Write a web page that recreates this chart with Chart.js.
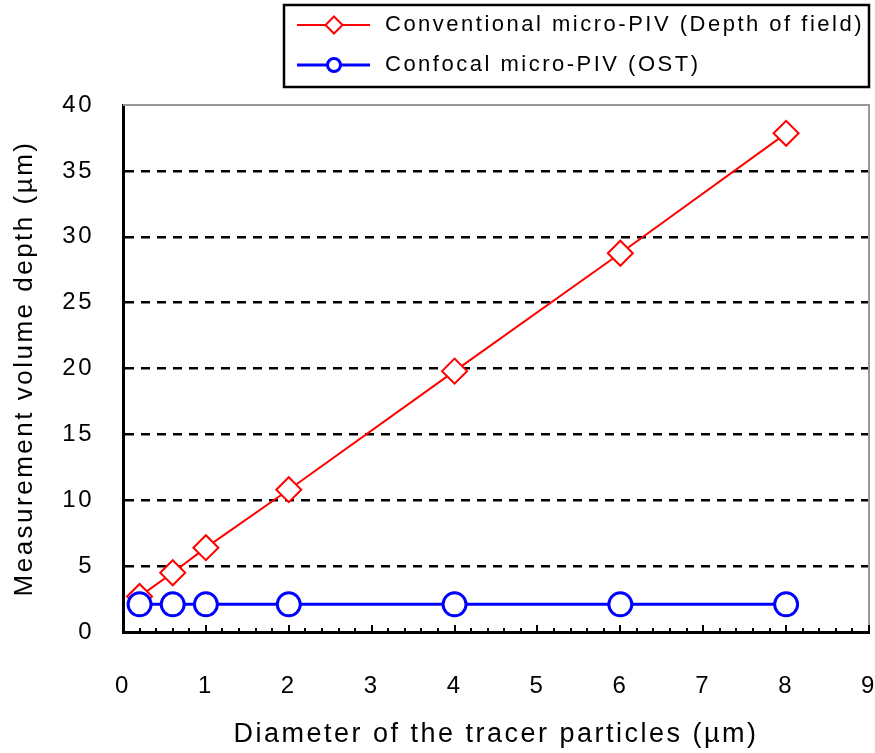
<!DOCTYPE html>
<html>
<head>
<meta charset="utf-8">
<script src="https://cdn.jsdelivr.net/npm/chart.js@4/dist/chart.umd.min.js"></script>
<style>
  html, body { margin: 0; padding: 0; background: #fff; }
  #wrap { width: 875px; height: 753px; position: relative; }
</style>
</head>
<body>
<div id="wrap"><canvas id="c" width="875" height="753"></canvas></div>
<script>
// ---- data ----
const diameters = [0.2, 0.6, 1, 2, 4, 6, 8];
const conventionalDepth = [2.7, 4.5, 6.4, 10.8, 19.8, 28.75, 37.85];
const confocalDepth = [2.1, 2.1, 2.1, 2.1, 2.1, 2.1, 2.1];
const seriesLabels = ['Conventional micro-PIV (Depth of field)', 'Confocal micro-PIV (OST)'];
const xTickValues = [0, 1, 2, 3, 4, 5, 6, 7, 8, 9];
const yTickValues = [0, 5, 10, 15, 20, 25, 30, 35, 40];
const xTitle = 'Diameter of the tracer particles (\u00b5m)';
const yTitle = 'Measurement volume depth (\u00b5m)';

const FONT = "'Liberation Sans', Arial, sans-serif";
const SPACING = '2.5px';

const toPts = (xs, ys) => xs.map((x, i) => ({ x: x, y: ys[i] }));

const spacingPlugin = {
  id: 'spacing',
  beforeInit(chart) { chart.ctx.letterSpacing = SPACING; },
  beforeUpdate(chart) { chart.ctx.letterSpacing = SPACING; },
  beforeDraw(chart) { chart.ctx.letterSpacing = SPACING; }
};

// frame (top/right gray) + inner x ticks
const framePlugin = {
  id: 'frame',
  beforeDatasetsDraw(chart) {
    const { ctx, chartArea: a, scales } = chart;
    ctx.save();
    ctx.strokeStyle = '#999999';
    ctx.lineWidth = 2;
    ctx.beginPath();
    ctx.moveTo(a.left, a.top);
    ctx.lineTo(a.right, a.top);
    ctx.lineTo(a.right, a.bottom);
    ctx.stroke();
    ctx.strokeStyle = '#000';
    ctx.lineWidth = 2;
    const xs = scales.x;
    for (let i = 0; i <= 45; i++) {
      const v = i * 0.2;
      const px = Math.round(xs.getPixelForValue(v));
      const len = (i % 5 === 0) ? 7 : 4;
      ctx.beginPath();
      ctx.moveTo(px, a.bottom);
      ctx.lineTo(px, a.bottom - len);
      ctx.stroke();
    }
    ctx.restore();
  }
};

// legend box with line + marker samples
const legendPlugin = {
  id: 'boxLegend',
  afterDraw(chart) {
    const { ctx } = chart;
    const box = { l: 284, t: 5, r: 869, b: 87 };
    ctx.save();
    ctx.fillStyle = '#fff';
    ctx.fillRect(box.l, box.t, box.r - box.l, box.b - box.t);
    ctx.strokeStyle = '#000';
    ctx.lineWidth = 2.5;
    ctx.strokeRect(box.l, box.t, box.r - box.l, box.b - box.t);
    const rows = [25, 65];
    const markR = [8.5, 6.5];
    chart.data.datasets.forEach((ds, i) => {
      const y = rows[i];
      ctx.strokeStyle = ds.borderColor;
      ctx.lineWidth = ds.borderWidth;
      ctx.beginPath();
      ctx.moveTo(297, y);
      ctx.lineTo(370, y);
      ctx.stroke();
      ctx.fillStyle = '#fff';
      ctx.strokeStyle = ds.pointBorderColor;
      ctx.lineWidth = ds.pointBorderWidth;
      ctx.beginPath();
      const r = markR[i];
      if (ds.pointStyle === 'circle') {
        ctx.arc(334, y, r, 0, Math.PI * 2);
      } else {
        ctx.moveTo(334, y - r); ctx.lineTo(334 + r, y); ctx.lineTo(334, y + r); ctx.lineTo(334 - r, y); ctx.closePath();
      }
      ctx.fill();
      ctx.stroke();
      ctx.fillStyle = '#000';
      ctx.font = '22px ' + FONT;
      ctx.letterSpacing = SPACING;
      ctx.textBaseline = 'middle';
      ctx.textAlign = 'left';
      ctx.fillText(ds.label, 385, y);
    });
    ctx.restore();
  }
};

new Chart(document.getElementById('c'), {
  type: 'line',
  data: {
    datasets: [
      {
        label: seriesLabels[0],
        data: toPts(diameters, conventionalDepth),
        order: 1,
        borderColor: '#ff0000',
        borderWidth: 2,
        pointStyle: 'rectRot',
        pointRadius: 12.5,
        pointBorderWidth: 2,
        pointBorderColor: '#ff0000',
        pointBackgroundColor: '#ffffff',
        tension: 0
      },
      {
        label: seriesLabels[1],
        data: toPts(diameters, confocalDepth),
        order: 0,
        borderColor: '#0000ff',
        borderWidth: 3,
        pointStyle: 'circle',
        pointRadius: 11.5,
        pointBorderWidth: 3,
        pointBorderColor: '#0000ff',
        pointBackgroundColor: '#ffffff',
        tension: 0
      }
    ]
  },
  options: {
    responsive: false,
    animation: false,
    devicePixelRatio: 1,
    clip: false,
    layout: { autoPadding: false, padding: { left: 7, top: 105, right: 0, bottom: 2 } },
    plugins: {
      legend: { display: false },
      tooltip: { enabled: false }
    },
    scales: {
      x: {
        type: 'linear',
        min: 0, max: 9,
        afterBuildTicks: (s) => { s.ticks = xTickValues.map(v => ({ value: v })); },
        afterFit: (s) => { s.height = 753 - 632 - 2; s.paddingRight = 6; s.paddingLeft = 0; },
        ticks: {
          font: { family: FONT, size: 24 },
          color: '#000',
          padding: 2,
          maxRotation: 0,
          autoSkip: false
        },
        grid: { display: false, drawTicks: true, tickLength: 38 },
        border: { display: true, color: '#000', width: 3 },
        title: {
          display: true,
          text: xTitle,
          font: { family: FONT, size: 27 },
          color: '#000',
          padding: { top: 4, bottom: 0 }
        }
      },
      y: {
        type: 'linear',
        min: 0, max: 40,
        afterBuildTicks: (s) => { s.ticks = yTickValues.map(v => ({ value: v })); },
        afterFit: (s) => { s.width = 123 - 7; },
        ticks: {
          font: { family: FONT, size: 24 },
          color: '#000',
          padding: 29
        },
        grid: {
          drawTicks: false,
          color: (c) => (c.tick && (c.tick.value === 0 || c.tick.value === 40)) ? 'rgba(0,0,0,0)' : '#000',
          lineWidth: 2.5
        },
        border: { display: true, color: '#000', width: 3, dash: [9, 7] },
        title: {
          display: true,
          text: yTitle,
          font: { family: FONT, size: 26 },
          color: '#000',
          padding: { top: 2, bottom: 4 }
        }
      }
    }
  },
  plugins: [spacingPlugin, framePlugin, legendPlugin]
});
</script>
</body>
</html>
